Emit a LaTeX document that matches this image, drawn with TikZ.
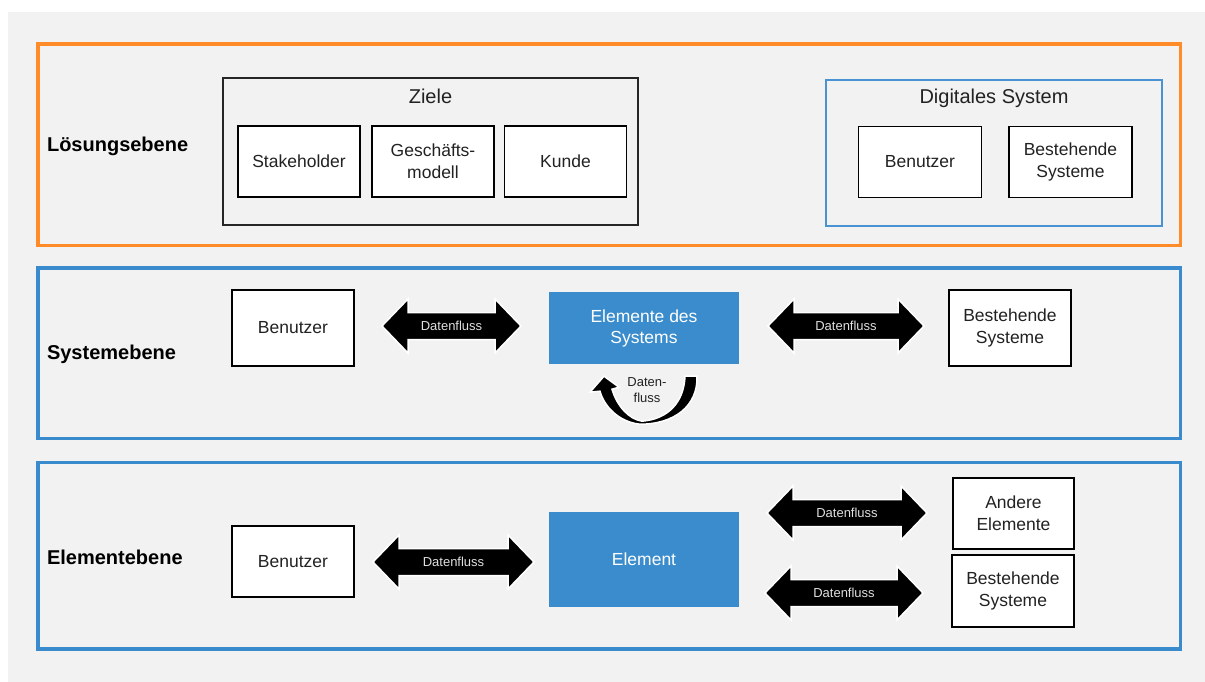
\documentclass[tikz,border=0pt]{standalone}
\usepackage{fontspec}
\setmainfont{Liberation Sans}
\usetikzlibrary{calc}
\definecolor{pagebg}{HTML}{F2F2F2}
\definecolor{layerorange}{HTML}{FF8C28}
\definecolor{layerblue}{HTML}{3A8BCE}
\definecolor{groupblue}{HTML}{4A93D2}
\definecolor{elemblue}{HTML}{3A8CCC}
\definecolor{ink}{HTML}{222222}
% fat double-headed arrow: #1 name of its label node, #2 left x, #3 right x, #4 centre y
\newcommand\flowarrow[4]{%
  \fill[flowbody] (#2,#4) -- ({#2+26},{#4-27}) -- ({#2+26},{#4-13.5})
    -- ({#3-26},{#4-13.5}) -- ({#3-26},{#4-27}) -- (#3,#4)
    -- ({#3-26},{#4+27}) -- ({#3-26},{#4+13.5}) -- ({#2+26},{#4+13.5})
    -- ({#2+26},{#4+27}) -- cycle;
  \node[flowtext] (#1) at ({(#2+#3)/2},#4) {Datenfluss};}
\begin{document}
\begin{tikzpicture}[x=1pt,y=-1pt,
  layerframe/.style={line width=3.6pt},
  layerlabel/.style={anchor=west,text=black,font=\fontsize{20}{24}\selectfont\bfseries},
  groupframe/.style={line width=1.4pt},
  grouptitle/.style={text=ink,font=\fontsize{20}{24}\selectfont},
  whitebox/.style={draw=black,line width=1.7pt,fill=white,text=ink,align=center,
    inner sep=0pt,font=\fontsize{17.5}{22}\selectfont},
  bluebox/.style={fill=elemblue,text=white,align=center,inner sep=0pt,
    font=\fontsize{17.5}{21}\selectfont},
  flowbody/.style={fill=black,draw=white,line width=1.5pt,line join=miter},
  flowtext/.style={text=white!88!black,inner sep=0pt,font=\fontsize{13}{15}\selectfont},
  flowlabel/.style={text=ink,align=center,inner sep=0pt,font=\fontsize{13}{16}\selectfont}
]
\useasboundingbox (0,0) rectangle (1205,682);
\fill[white] (0,0) rectangle (1205,682);
\fill[pagebg] (8,12) rectangle (1205,682);

% ---------- layer frames ----------
\draw[layerframe,layerorange] (38,44) rectangle (1180.5,245.5);
\draw[layerframe,layerblue] (38,268) rectangle (1180.5,438.5);
\draw[layerframe,layerblue] (38,462.5) rectangle (1180.5,649);

\node[layerlabel] (lloes) at (43.5,146) {Lösungsebene};
\node[layerlabel] (lsys) at (43.5,354) {Systemebene};
\node[layerlabel] (lelem) at (43.5,557) {Elementebene};

% ---------- Lösungsebene ----------
\draw[groupframe,black!85] (223,78) rectangle (638,225);
\node[grouptitle] (ziele) at (430.5,96) {Ziele};
\node[whitebox,minimum width=122pt,minimum height=71pt] (stake) at (299,161.5) {Stakeholder};
\node[whitebox,minimum width=122pt,minimum height=71pt] (gm) at (433,161.5) {Geschäfts-\\modell};
\node[whitebox,minimum width=122pt,minimum height=71pt] (kunde) at (565.5,161.5) {Kunde};

\draw[groupframe,groupblue] (826,80) rectangle (1162,226);
\node[grouptitle] (digsys) at (994,98) {Digitales System};
\node[whitebox,minimum width=123pt,minimum height=71pt] (ben1) at (920,162) {Benutzer};
\node[whitebox,minimum width=123pt,minimum height=71pt] (best1) at (1070.5,162) {Bestehende\\Systeme};

% ---------- Systemebene ----------
\node[whitebox,minimum width=122pt,minimum height=76pt] (ben2) at (293,328) {Benutzer};
\node[bluebox,minimum width=190pt,minimum height=72pt] (sys) at (644,328) {Elemente des\\Systems};
\node[whitebox,minimum width=122pt,minimum height=76pt] (best2) at (1010,328) {Bestehende\\Systeme};

\flowarrow{f1}{382}{521}{326}
\flowarrow{f2}{768}{924}{326}

% curved self-loop below the system elements
\begin{scope}[shift={(sys.south)}]
  \fill[flowbody]
    (41,12) -- (53,12)
    .. controls (54,42) and (30,60) .. (-4,60)
    .. controls (-25,58) and (-40,42) .. (-44,27)
    -- (-54,28) -- (-40,12) -- (-25,23) -- (-32,25)
    .. controls (-27,42) and (-15,55) .. (-2,57)
    .. controls (24,55) and (40,38) .. (41,12) -- cycle;
\end{scope}
\node[flowlabel] (loop) at ($(sys.south)+(3,26)$) {Daten-\\fluss};

% ---------- Elementebene ----------
\node[whitebox,minimum width=122pt,minimum height=71pt] (ben3) at (293,561.5) {Benutzer};
\node[bluebox,minimum width=190pt,minimum height=95pt] (elem) at (644,559.5) {Element};
\node[whitebox,minimum width=121pt,minimum height=71pt] (andere) at (1013.5,513.5) {Andere\\Elemente};
\node[whitebox,minimum width=122pt,minimum height=72pt] (best3) at (1013,591) {Bestehende\\Systeme};

\flowarrow{f3}{373}{534}{562}
\flowarrow{f4}{767}{927}{513}
\flowarrow{f5}{765}{923}{593}
\end{tikzpicture}
\end{document}
